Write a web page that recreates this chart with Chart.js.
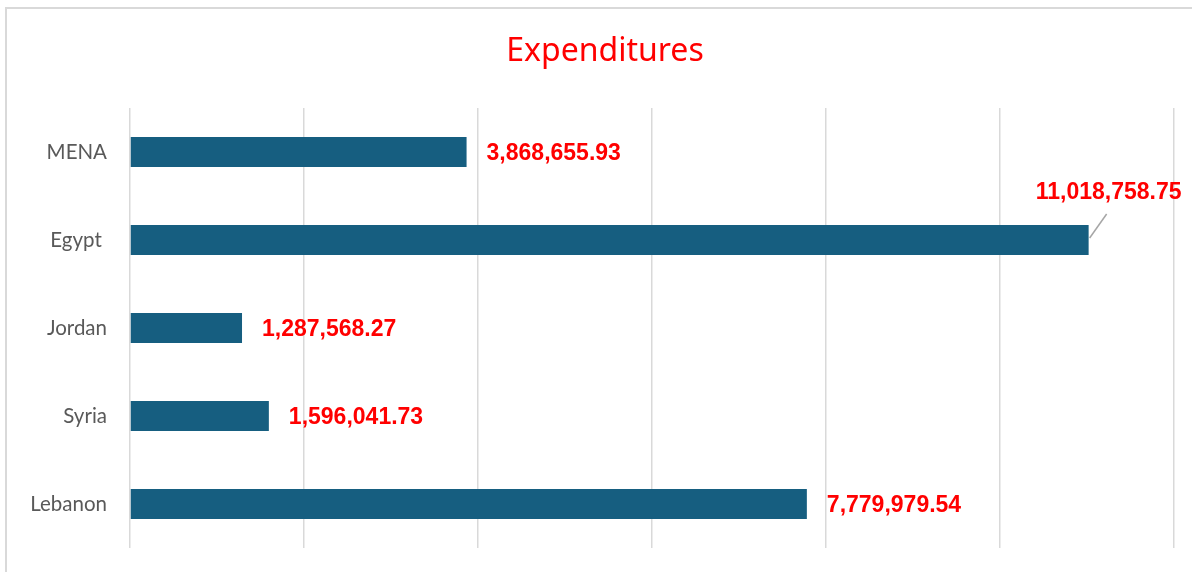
<!DOCTYPE html>
<html>
<head>
<meta charset="utf-8">
<script src="https://cdn.jsdelivr.net/npm/chart.js@4"></script>
<style>
    html, body { margin: 0; padding: 0; background: #ffffff; overflow: hidden; }
    #frame {
        position: absolute;
        left: 5px;
        top: 7px;
        width: 1200px;
        height: 600px;
        border: 2px solid #d9d9d9;
    }
    #wrap { position: absolute; left: 0; top: 0; width: 1192px; height: 572px; }
</style>
</head>
<body>
<div id="frame"></div>
<div id="wrap"><canvas id="expChart" width="1192" height="572"></canvas></div>
<script>
const categories = ['MENA', 'Egypt ', 'Jordan', 'Syria', 'Lebanon'];
const expenditures = [3868655.93, 11018758.75, 1287568.27, 1596041.73, 7779979.54];
const axisMax = 12000000;
const axisStep = 2000000;

const barColor = '#165E80';
const labelColor = '#FF0000';

function fmt(v) {
    return v.toLocaleString('en-US', { minimumFractionDigits: 2, maximumFractionDigits: 2 });
}

// value labels drawn next to each bar, with a callout when it doesn't fit
const valueLabels = {
    id: 'valueLabels',
    afterLayout(chart) {
        // centre the title on the outer frame rather than the canvas
        if (chart.titleBlock) chart.titleBlock.left += 36;
    },
    afterDatasetsDraw(chart) {
        const ctx = chart.ctx;
        const meta = chart.getDatasetMeta(0);
        ctx.save();
        ctx.font = 'bold 23px "Liberation Sans", Arial, sans-serif';
        ctx.fillStyle = labelColor;
        ctx.textBaseline = 'middle';
        meta.data.forEach((bar, i) => {
            const text = fmt(expenditures[i]);
            const w = ctx.measureText(text).width;
            if (bar.x + 20 + w > chart.width) {
                ctx.strokeStyle = '#a6a6a6';
                ctx.lineWidth = 1.5;
                ctx.beginPath();
                ctx.moveTo(bar.x + 1, bar.y - 2);
                ctx.lineTo(bar.x + 18, bar.y - 26);
                ctx.stroke();
                ctx.textAlign = 'center';
                ctx.fillText(text, bar.x + 20, bar.y - 47);
            } else {
                ctx.textAlign = 'left';
                ctx.fillText(text, bar.x + 20, bar.y + 2);
            }
        });
        ctx.restore();
    }
};

new Chart(document.getElementById('expChart').getContext('2d'), {
    type: 'bar',
    data: {
        labels: categories,
        datasets: [{
            label: 'Expenditures',
            data: expenditures,
            backgroundColor: barColor,
            borderWidth: 0,
            categoryPercentage: 1,
            barPercentage: 0.34
        }]
    },
    options: {
        indexAxis: 'y',
        responsive: false,
        animation: false,
        layout: {
            padding: { top: 33, right: 18, bottom: 24, left: 0 }
        },
        plugins: {
            legend: { display: false },
            tooltip: { enabled: false },
            title: {
                display: true,
                text: 'Expenditures',
                color: labelColor,
                font: { family: '"Noto Sans", sans-serif', size: 32, weight: 'normal', lineHeight: 1.2 },
                padding: { top: 0, bottom: 36.6 }
            }
        },
        scales: {
            x: {
                min: 0,
                max: axisMax,
                ticks: { display: false, stepSize: axisStep },
                grid: { color: '#d9d9d9', lineWidth: 1.5, drawTicks: false },
                border: { display: false }
            },
            y: {
                grid: { display: false, drawTicks: false },
                border: { display: false },
                ticks: {
                    color: '#595959',
                    padding: 23,
                    font: { family: 'Lato, sans-serif', size: 20.5 }
                },
                afterFit(scale) {
                    scale.width = 130;
                    scale.paddingTop = 0;
                    scale.paddingBottom = 0;
                }
            }
        }
    },
    plugins: [valueLabels]
});
</script>
</body>
</html>
